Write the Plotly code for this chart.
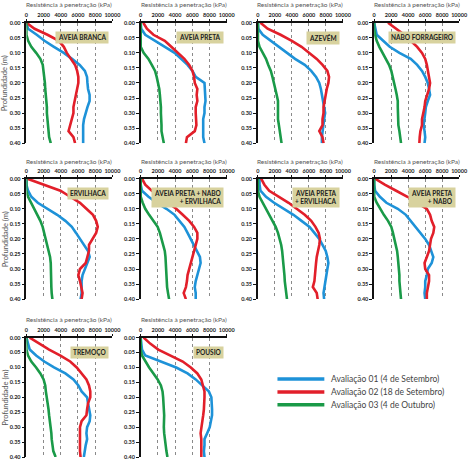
import plotly.graph_objects as go

# ---------------- data ----------------
depth = [0.00, 0.02, 0.04, 0.06, 0.08, 0.10, 0.12, 0.14, 0.16, 0.18, 0.20,
         0.22, 0.24, 0.26, 0.28, 0.30, 0.32, 0.34, 0.36, 0.38, 0.40]
x_ticks = [0, 2000, 4000, 6000, 8000, 10000]
y_ticks = [0.00, 0.05, 0.10, 0.15, 0.20, 0.25, 0.30, 0.35, 0.40]
series_names = ["Avaliação 01 (4 de Setembro)", "Avaliação 02 (18 de Setembro)",
                "Avaliação 03 (4 de Outubro)"]
panel_labels = ["AVEIA BRANCA", "AVEIA PRETA", "AZEVÉM", "NABO FORRAGEIRO",
                "ERVILHACA", "AVEIA PRETA + NABO<br>+ ERVILHACA",
                "AVEIA PRETA<br>+ ERVILHACA", "AVEIA PRETA<br>+ NABO",
                "TREMOÇO", "POUSIO"]

aveia_branca_01 = [0, 200, 1200, 2100, 3200, 4350, 5300, 6200, 6800, 7050, 7100, 7170, 7350, 7350, 7100, 6870, 6700, 6600, 6600, 6530, 6600]
aveia_branca_02 = [0, 950, 2450, 3770, 4350, 4700, 5170, 5660, 5900, 6040, 6040, 5900, 5770, 5660, 5470, 5470, 5300, 5100, 4900, 5470, 5660]
aveia_branca_03 = [0, 0, 0, 200, 570, 1130, 1620, 1900, 2000, 2080, 2150, 2190, 2260, 2340, 2380, 2380, 2450, 2450, 2530, 2640, 2830]

aveia_preta_01 = [0, 60, 530, 1670, 2800, 3940, 4700, 5450, 6020, 6400, 7420, 7460, 7460, 7540, 7420, 7420, 7270, 7270, 7230, 7270, 7420]
aveia_preta_02 = [300, 720, 1480, 2800, 3560, 4320, 5080, 5640, 6020, 6210, 6290, 6590, 6510, 6590, 6400, 6400, 6400, 6480, 6290, 5380, 5260]
aveia_preta_03 = [0, 0, 0, 0, 0, 340, 900, 1290, 1670, 1860, 2050, 2160, 2230, 2310, 2350, 2350, 2420, 2420, 2420, 2540, 2690]

azevem_01 = [0, 50, 570, 1520, 2470, 3420, 4370, 5510, 6270, 6840, 7220, 7410, 7530, 7680, 7790, 7910, 7790, 7680, 7600, 7530, 7530]
azevem_02 = [300, 1140, 2660, 3990, 5130, 6080, 6920, 7600, 8170, 8370, 8290, 8100, 7980, 7790, 7720, 7720, 7600, 7600, 7220, 7600, 7720]
azevem_03 = [0, 0, 0, 0, 190, 570, 950, 1220, 1520, 1710, 1900, 2090, 2210, 2360, 2360, 2280, 2360, 2470, 2590, 2660, 2780]

nabo_forrageiro_01 = [0, 110, 300, 1060, 1830, 2970, 4300, 5060, 5630, 6010, 6310, 6460, 6580, 6310, 6080, 6010, 5930, 5820, 5930, 6010, 5930]
nabo_forrageiro_02 = [1630, 2590, 3540, 4300, 5060, 5630, 6010, 6200, 6310, 6460, 6580, 6460, 6200, 6010, 5930, 5820, 5630, 5630, 5440, 5360, 5320]
nabo_forrageiro_03 = [0, 0, 110, 300, 610, 990, 1370, 1750, 2020, 2210, 2400, 2510, 2660, 2780, 2780, 2780, 2780, 2850, 2970, 3040, 3160]

ervilhaca_01 = [0, 0, 190, 570, 1320, 2450, 3580, 4530, 5280, 5770, 6230, 6790, 7170, 7360, 7060, 6790, 6530, 6420, 6420, 6420, 6300]
ervilhaca_02 = [110, 2080, 3960, 5090, 6230, 6980, 7740, 8110, 8300, 8110, 7740, 7280, 7280, 7060, 6900, 6230, 6040, 6230, 6420, 6530, 6420]
ervilhaca_03 = [0, 0, 0, 190, 570, 940, 1320, 1620, 1890, 2080, 2260, 2450, 2640, 2750, 2830, 2830, 2830, 2830, 2900, 2940, 3020]

ap_nabo_erv_01 = [0, 0, 150, 910, 1860, 2990, 3940, 4510, 5080, 5450, 5830, 6210, 6590, 6890, 6970, 6780, 6510, 6400, 6290, 6400, 6400]
ap_nabo_erv_02 = [150, 530, 1290, 2420, 3180, 4130, 4890, 5640, 6210, 6590, 6590, 6400, 6210, 6020, 5830, 5640, 5450, 5380, 5260, 5000, 5260]
ap_nabo_erv_03 = [0, 0, 0, 0, 230, 530, 980, 1480, 1970, 2230, 2420, 2610, 2800, 2880, 2920, 2990, 2990, 2990, 3070, 3180, 3300]

ap_erv_01 = [190, 190, 300, 950, 1900, 3040, 4180, 5130, 6080, 6650, 7220, 7600, 7980, 8170, 8290, 8170, 8060, 7910, 7790, 7720, 7790]
ap_erv_02 = [380, 760, 1330, 2470, 3610, 4560, 5510, 6270, 6770, 7150, 7300, 7220, 7030, 6920, 6840, 6770, 6770, 6650, 6460, 6920, 7030]
ap_erv_03 = [0, 0, 0, 190, 570, 950, 1330, 1710, 2090, 2360, 2590, 2740, 2850, 2930, 3040, 3040, 3120, 3160, 3230, 3350, 3420]

ap_nabo_01 = [0, 0, 110, 680, 1440, 2780, 3730, 4300, 4870, 5440, 6010, 6460, 6690, 6960, 6770, 6310, 6200, 6010, 6010, 5930, 6010]
ap_nabo_02 = [110, 1250, 2590, 3920, 5060, 6200, 6580, 6770, 7070, 6960, 6690, 6580, 6460, 6200, 5930, 6010, 6460, 6460, 6310, 6200, 6200]
ap_nabo_03 = [0, 0, 0, 0, 300, 680, 1140, 1630, 2020, 2210, 2400, 2590, 2700, 2780, 2850, 2890, 2970, 2970, 3040, 3080, 3160]

tremoco_01 = [0, 190, 380, 1130, 2080, 3210, 4530, 5470, 6040, 6420, 7060, 7170, 7280, 7430, 7360, 7060, 6980, 7060, 6900, 6790, 6680]
tremoco_02 = [380, 1510, 2640, 3960, 5090, 5850, 6420, 6980, 7280, 7430, 7430, 7170, 7060, 6980, 6420, 6230, 6230, 6230, 6150, 6230, 6300]
tremoco_03 = [0, 0, 0, 190, 570, 1130, 1620, 2000, 2190, 2260, 2380, 2450, 2570, 2640, 2750, 2830, 2900, 2940, 3020, 3130, 3400]

pousio_01 = [0, 80, 150, 530, 2420, 4130, 5450, 6400, 7150, 7920, 8220, 8300, 8300, 8300, 8180, 8030, 7730, 7420, 7420, 7350, 7420]
pousio_02 = [340, 1100, 2050, 3560, 4890, 5830, 6590, 7050, 7270, 7420, 7420, 7420, 7350, 7270, 7160, 7050, 6970, 7050, 7050, 7050, 7050]
pousio_03 = [0, 0, 0, 150, 530, 980, 1480, 1970, 2350, 2540, 2610, 2690, 2690, 2730, 2690, 2690, 2730, 2800, 2880, 2990, 3110]

panels = [
    (aveia_branca_01, aveia_branca_02, aveia_branca_03),
    (aveia_preta_01, aveia_preta_02, aveia_preta_03),
    (azevem_01, azevem_02, azevem_03),
    (nabo_forrageiro_01, nabo_forrageiro_02, nabo_forrageiro_03),
    (ervilhaca_01, ervilhaca_02, ervilhaca_03),
    (ap_nabo_erv_01, ap_nabo_erv_02, ap_nabo_erv_03),
    (ap_erv_01, ap_erv_02, ap_erv_03),
    (ap_nabo_01, ap_nabo_02, ap_nabo_03),
    (tremoco_01, tremoco_02, tremoco_03),
    (pousio_01, pousio_02, pousio_03),
]

# ---------------- layout ----------------
W, H = 474, 464
colors = ["#1E92D8", "#E21F2A", "#1A9A48"]
col_px = [(25, 113), (142, 230), (262, 349), (381, 468)]
row_px = [(20, 142), (178, 300), (339, 460)]
title_y_px = [2, 161, 321]

FONT = "Lato"
fig = go.Figure()
annotations = []
shapes = []
layout = {}

for i, series in enumerate(panels):
    r, c = divmod(i, 4)
    n = i + 1
    xs = "x" if n == 1 else f"x{n}"
    ys = "y" if n == 1 else f"y{n}"
    for k, vals in enumerate(series):
        fig.add_trace(go.Scatter(
            x=vals, y=depth, mode="lines", xaxis=xs, yaxis=ys,
            line=dict(color=colors[k], width=2.6), showlegend=False,
            name=series_names[k], hoverinfo="skip"))
    x0, x1 = col_px[c]
    y0, y1 = row_px[r]
    layout["xaxis" if n == 1 else f"xaxis{n}"] = dict(
        domain=[x0 / W, x1 / W], anchor=ys, side="top",
        range=[0, 10000], tickvals=x_ticks, tickformat="d", tickangle=0,
        showgrid=True, gridcolor="#8a8a8a", griddash="dot", gridwidth=1,
        showline=True, linecolor="#111", linewidth=1.5, zeroline=False,
        ticks="outside", ticklen=2, tickcolor="#111",
        tickfont=dict(family=FONT, size=5.5, color="#222", weight="bold"))
    layout["yaxis" if n == 1 else f"yaxis{n}"] = dict(
        domain=[1 - y1 / H, 1 - y0 / H], anchor=xs,
        range=[0.40, 0.0], tickvals=y_ticks, tickformat=".2f",
        showgrid=False, showline=True, linecolor="#111", linewidth=1.5,
        zeroline=False, ticks="outside", ticklen=3, tickcolor="#111",
        tickfont=dict(family=FONT, size=5.5, color="#222", weight="bold"))
    # axis title
    annotations.append(dict(
        text="Resistência à penetração (kPa)", xref="paper", yref="paper",
        x=(x0 + x1) / 2 / W, y=1 - title_y_px[r] / H, showarrow=False,
        xanchor="center", yanchor="middle",
        font=dict(family=FONT, size=6.5, color="#555")))
    if c == 0:
        annotations.append(dict(
            text="Profundidade (m)", xref="paper", yref="paper",
            x=3.5 / W, y=1 - (y0 + y1) / 2 / H, showarrow=False, textangle=-90,
            xanchor="center", yanchor="middle",
            font=dict(family=FONT, size=7.5, color="#555")))
    # panel label box
    annotations.append(dict(
        text=panel_labels[i], xref=f"{xs} domain", yref=f"{ys} domain",
        x=0.965, y=1 - 8 / (y1 - y0), xanchor="right", yanchor="top",
        showarrow=False, align="right", bgcolor="#D8D29E", borderpad=2,
        font=dict(family=FONT, size=6.5, color="#222", weight="bold")))

# legend drawn manually
leg_y = [381, 394, 407]
for k in range(3):
    shapes.append(dict(type="line", xref="paper", yref="paper",
                       x0=282 / W, x1=330 / W, y0=1 - leg_y[k] / H, y1=1 - leg_y[k] / H,
                       line=dict(color=colors[k], width=3.5)))
    annotations.append(dict(text=series_names[k], xref="paper", yref="paper",
                            x=335 / W, y=1 - leg_y[k] / H, xanchor="left",
                            yanchor="middle", showarrow=False,
                            font=dict(family=FONT, size=8.5, color="#444")))

fig.update_layout(
    width=W, height=H, margin=dict(l=0, r=0, t=0, b=0),
    paper_bgcolor="white", plot_bgcolor="white", showlegend=False,
    annotations=annotations, shapes=shapes, **layout)

fig.write_html("out.html", config={"displayModeBar": False},
               post_script="document.body.style.margin='0';"
                           "document.body.style.overflow='hidden';")
